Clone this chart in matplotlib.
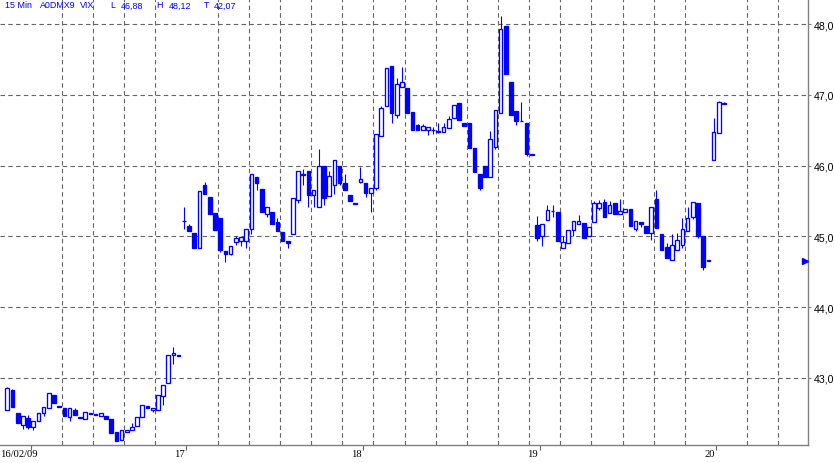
import numpy as np
import matplotlib
matplotlib.use("Agg")
import matplotlib.pyplot as plt

# ---------------- data: 15-minute OHLC bars (34 bars per trading day) ----------------
d16_open  = [42.54, 42.83, 42.50, 42.33, 42.43, 42.30, 42.39, 42.50, 42.57, 42.76, 42.60, 42.57, 42.44, 42.55, 42.44, 42.42, 42.495,
             42.49, 42.46, 42.46, 42.42, 42.23, 42.12, 42.23, 42.26, 42.31, 42.45, 42.60, 42.545, 42.55, 42.74, 42.92, 43.32, 43.32]
d16_close = [42.86, 42.59, 42.36, 42.46, 42.30, 42.39, 42.50, 42.58, 42.79, 42.64, 42.585, 42.46, 42.57, 42.47, 42.425, 42.52, 42.485,
             42.475, 42.495, 42.42, 42.22, 42.11, 42.265, 42.26, 42.30, 42.45, 42.62, 42.57, 42.57, 42.76, 42.90, 43.32, 43.345, 43.31]
d16_high  = [42.87, 42.84, 42.50, 42.46, 42.47, 42.39, 42.50, 42.58, 42.79, 42.76, 42.60, 42.57, 42.57, 42.57, 42.44, 42.52, 42.495,
             42.49, 42.495, 42.46, 42.42, 42.23, 42.265, 42.26, 42.36, 42.45, 42.62, 42.60, 42.57, 42.76, 42.90, 43.32, 43.44, 43.32]
d16_low   = [42.54, 42.59, 42.36, 42.27, 42.28, 42.26, 42.39, 42.46, 42.57, 42.64, 42.585, 42.46, 42.39, 42.47, 42.425, 42.42, 42.485,
             42.475, 42.46, 42.42, 42.22, 42.11, 42.12, 42.23, 42.26, 42.31, 42.45, 42.57, 42.51, 42.55, 42.62, 42.92, 43.19, 43.31]

d17_open  = [45.22, 45.14, 45.05, 44.84, 45.73, 45.55, 45.33, 45.26, 44.79, 44.745, 44.915, 44.93, 44.94, 45.11, 45.835, 45.67, 45.31,
             45.34, 45.21, 45.06, 44.93, 45.04, 45.52, 45.88, 45.92, 45.585, 45.41, 45.995, 45.57, 45.73, 45.99, 45.76, 45.585, 45.47]
d17_close = [45.215, 45.075, 44.84, 45.64, 45.60, 45.32, 45.09, 44.81, 44.75, 44.86, 44.976, 44.99, 45.11, 45.88, 45.75, 45.34, 45.42,
             45.17, 45.07, 44.93, 44.91, 45.54, 45.93, 45.87, 45.59, 45.66, 46.00, 45.54, 45.85, 46.075, 45.76, 45.65, 45.505, 45.455]
d17_high  = [45.42, 45.18, 45.05, 45.64, 45.77, 45.55, 45.33, 45.26, 44.79, 44.86, 45.00, 44.99, 45.11, 45.88, 45.835, 45.67, 45.42,
             45.34, 45.26, 45.06, 44.93, 45.54, 45.93, 45.95, 45.92, 45.66, 46.24, 45.995, 45.93, 46.075, 45.99, 45.88, 45.585, 45.47]
d17_low   = [45.10, 45.075, 44.84, 44.84, 45.60, 45.32, 45.09, 44.78, 44.64, 44.73, 44.88, 44.86, 44.84, 45.03, 45.65, 45.34, 45.28,
             45.17, 45.07, 44.93, 44.83, 45.04, 45.47, 45.72, 45.42, 45.42, 45.41, 45.45, 45.57, 45.60, 45.73, 45.65, 45.505, 45.455]

d18_open  = [45.775, 45.76, 45.62, 45.69, 46.415, 46.85, 47.405, 46.71, 47.12, 47.10, 46.755, 46.575, 46.51, 46.505, 46.505, 46.495,
             46.47, 46.53, 46.67, 46.89, 46.60, 46.61, 46.245, 45.88, 45.99, 45.835, 46.26, 46.74, 47.97, 47.18, 46.77, 46.63, 46.60, 46.17]
d18_close = [45.805, 45.62, 45.69, 46.45, 46.82, 47.38, 46.74, 47.15, 47.18, 46.75, 46.51, 46.51, 46.556, 46.54, 46.50, 46.48,
             46.54, 46.66, 46.855, 46.64, 46.555, 46.255, 45.915, 45.69, 45.835, 46.38, 46.79, 47.94, 47.29, 46.72, 46.63, 46.625, 46.17, 46.155]
d18_high  = [45.98, 45.76, 45.69, 46.45, 46.84, 47.38, 47.405, 47.24, 47.39, 47.10, 46.755, 46.59, 46.59, 46.54, 46.54, 46.60,
             46.61, 46.70, 46.855, 46.89, 46.61, 46.61, 46.245, 45.88, 45.99, 46.49, 46.79, 48.12, 47.97, 47.18, 46.77, 46.90, 46.60, 46.17]
d18_low   = [45.76, 45.55, 45.35, 45.65, 46.415, 46.85, 46.61, 46.68, 47.12, 46.75, 46.51, 46.51, 46.51, 46.44, 46.45, 46.46,
             46.47, 46.53, 46.67, 46.64, 46.555, 46.255, 45.915, 45.66, 45.835, 45.835, 46.235, 46.74, 47.29, 46.72, 46.58, 46.625, 46.14, 46.155]

d19_open  = [45.16, 45.00, 45.23, 45.36, 45.34, 44.83, 44.90, 45.085, 45.17, 45.185, 45.00, 45.20, 45.405, 45.48, 45.33, 45.47, 45.32,
             45.34, 45.38, 45.11, 45.21, 45.14, 45.05, 45.53, 45.03, 44.845, 44.67, 44.81, 44.88, 45.07, 45.28, 45.47, 45.00, 44.665]
d19_close = [44.98, 45.175, 45.37, 45.355, 44.93, 44.915, 45.085, 45.22, 45.22, 44.98, 45.13, 45.47, 45.47, 45.28, 45.44, 45.31, 45.355,
             45.38, 45.15, 45.22, 45.17, 45.05, 45.41, 45.12, 44.81, 44.70, 44.88, 44.95, 45.11, 45.26, 45.48, 45.00, 44.57, 44.645]
d19_high  = [45.29, 45.175, 45.45, 45.45, 45.34, 45.00, 45.085, 45.22, 45.30, 45.185, 45.13, 45.495, 45.51, 45.53, 45.495, 45.47, 45.53,
             45.38, 45.38, 45.22, 45.21, 45.14, 45.41, 45.66, 45.03, 44.91, 45.03, 45.05, 45.26, 45.42, 45.48, 45.47, 45.00, 44.665]
d19_low   = [44.94, 44.86, 45.23, 45.28, 44.93, 44.83, 44.90, 45.01, 45.17, 44.98, 45.00, 45.20, 45.37, 45.28, 45.33, 45.31, 45.32,
             45.34, 45.15, 45.08, 45.13, 45.05, 44.95, 45.12, 44.81, 44.70, 44.67, 44.81, 44.84, 45.07, 45.24, 44.98, 44.53, 44.645]

d20_open  = [46.085, 46.46, 46.87]
d20_close = [46.47, 46.90, 46.89]
d20_high  = [46.68, 46.915, 46.90]
d20_low   = [46.085, 46.46, 46.87]

day_labels = ["16/02/09", "17", "18", "19", "20"]
bars_per_day = 34
grid_every_bars = 6
y_ticks = [43.0, 44.0, 45.0, 46.0, 47.0, 48.0]
marker_level = 44.65
header_items = ["15 Min", "A0DMX9", "VIX", "L", "46,88", "H", "48,12", "T", "42,07"]

# ---------------- assemble ----------------
opens = np.array(d16_open + d17_open + d18_open + d19_open + d20_open)
closes = np.array(d16_close + d17_close + d18_close + d19_close + d20_close)
highs = np.array(d16_high + d17_high + d18_high + d19_high + d20_high)
lows = np.array(d16_low + d17_low + d18_low + d19_low + d20_low)
x = np.arange(len(opens))

BLUE = "#0000ff"
GRID = "#646464"
AXC = "#808080"

W, H = 834, 464
fig = plt.figure(figsize=(W / 100, H / 100), dpi=100)
ax = fig.add_axes([0, 18 / H, 808.3 / W, 446 / H])

# wicks
ax.vlines(x, lows, highs, color=BLUE, lw=0.8, zorder=3)
# bodies
up = closes >= opens
body_bottom = np.minimum(opens, closes)
body_h = np.abs(closes - opens)
ax.bar(x[up], body_h[up], bottom=body_bottom[up], width=0.7, facecolor="white",
       edgecolor=BLUE, linewidth=0.95, zorder=4)
ax.bar(x[~up], body_h[~up], bottom=body_bottom[~up], width=0.7, facecolor=BLUE,
       edgecolor=BLUE, linewidth=0.95, zorder=4)

ax.set_xlim(-1.406, 154.25)
ax.set_ylim(42.048, 48.358)

# gridlines
ax.set_xticks(np.arange(4.5, 154.25, grid_every_bars), minor=True)
ax.xaxis.grid(True, which="minor", color=GRID, lw=0.8, linestyle=(0, (4, 3)))
ax.set_yticks(y_ticks)
ax.set_yticklabels([f"{v:.1f}".replace(".", ",") for v in y_ticks])
ax.yaxis.grid(True, color=GRID, lw=0.8, linestyle=(0, (4, 3)))
ax.set_axisbelow(True)

# spines
for s in ["top", "left"]:
    ax.spines[s].set_visible(False)
for s in ["right", "bottom"]:
    ax.spines[s].set_color(AXC)
    ax.spines[s].set_linewidth(1.0)

ax.yaxis.tick_right()
ax.tick_params(axis="y", which="major", length=2.5, width=0.8, color=AXC, pad=1.5,
               labelsize=7.6, labelcolor="black")
for lab in ax.get_yticklabels():
    lab.set_fontfamily("Liberation Sans")

# day ticks and labels
day_pos = [bars_per_day * d + 0.5 for d in range(len(day_labels))]
ax.set_xticks([4.5] + day_pos[1:])
ax.set_xticklabels([])
ax.tick_params(axis="x", which="major", length=3.5, width=0.8, color=GRID, direction="out")
ax.tick_params(axis="x", which="minor", length=0)
xt = ax.get_xaxis_transform()
ax.annotate(day_labels[0], xy=(0, 0), xycoords="axes fraction", xytext=(0, -4),
            textcoords="offset pixels", ha="left", va="top", fontsize=7.6,
            family="Liberation Serif", color="black", annotation_clip=False)
for p, lab in zip(day_pos[1:], day_labels[1:]):
    ax.annotate(lab, xy=(p, 0), xycoords=xt, xytext=(-1.5, -4),
                textcoords="offset pixels", ha="right", va="top", fontsize=7.6,
                family="Liberation Serif", color="black", annotation_clip=False)

# last-price marker at the right edge
ax.plot([0.9955], [marker_level], marker=">", color=BLUE, markersize=4.5,
        transform=ax.get_yaxis_transform(), clip_on=False, zorder=5)

# header
header_x = [5, 39.5, 80, 110.5, 120.5, 156.5, 168.5, 204, 213.5]
for txt, px in zip(header_items, header_x):
    fig.text(px / W, 1 - 6 / H, txt, ha="left", va="center", fontsize=6.4,
             family="Liberation Sans", color=BLUE)

fig.savefig("out.png", dpi=100)
